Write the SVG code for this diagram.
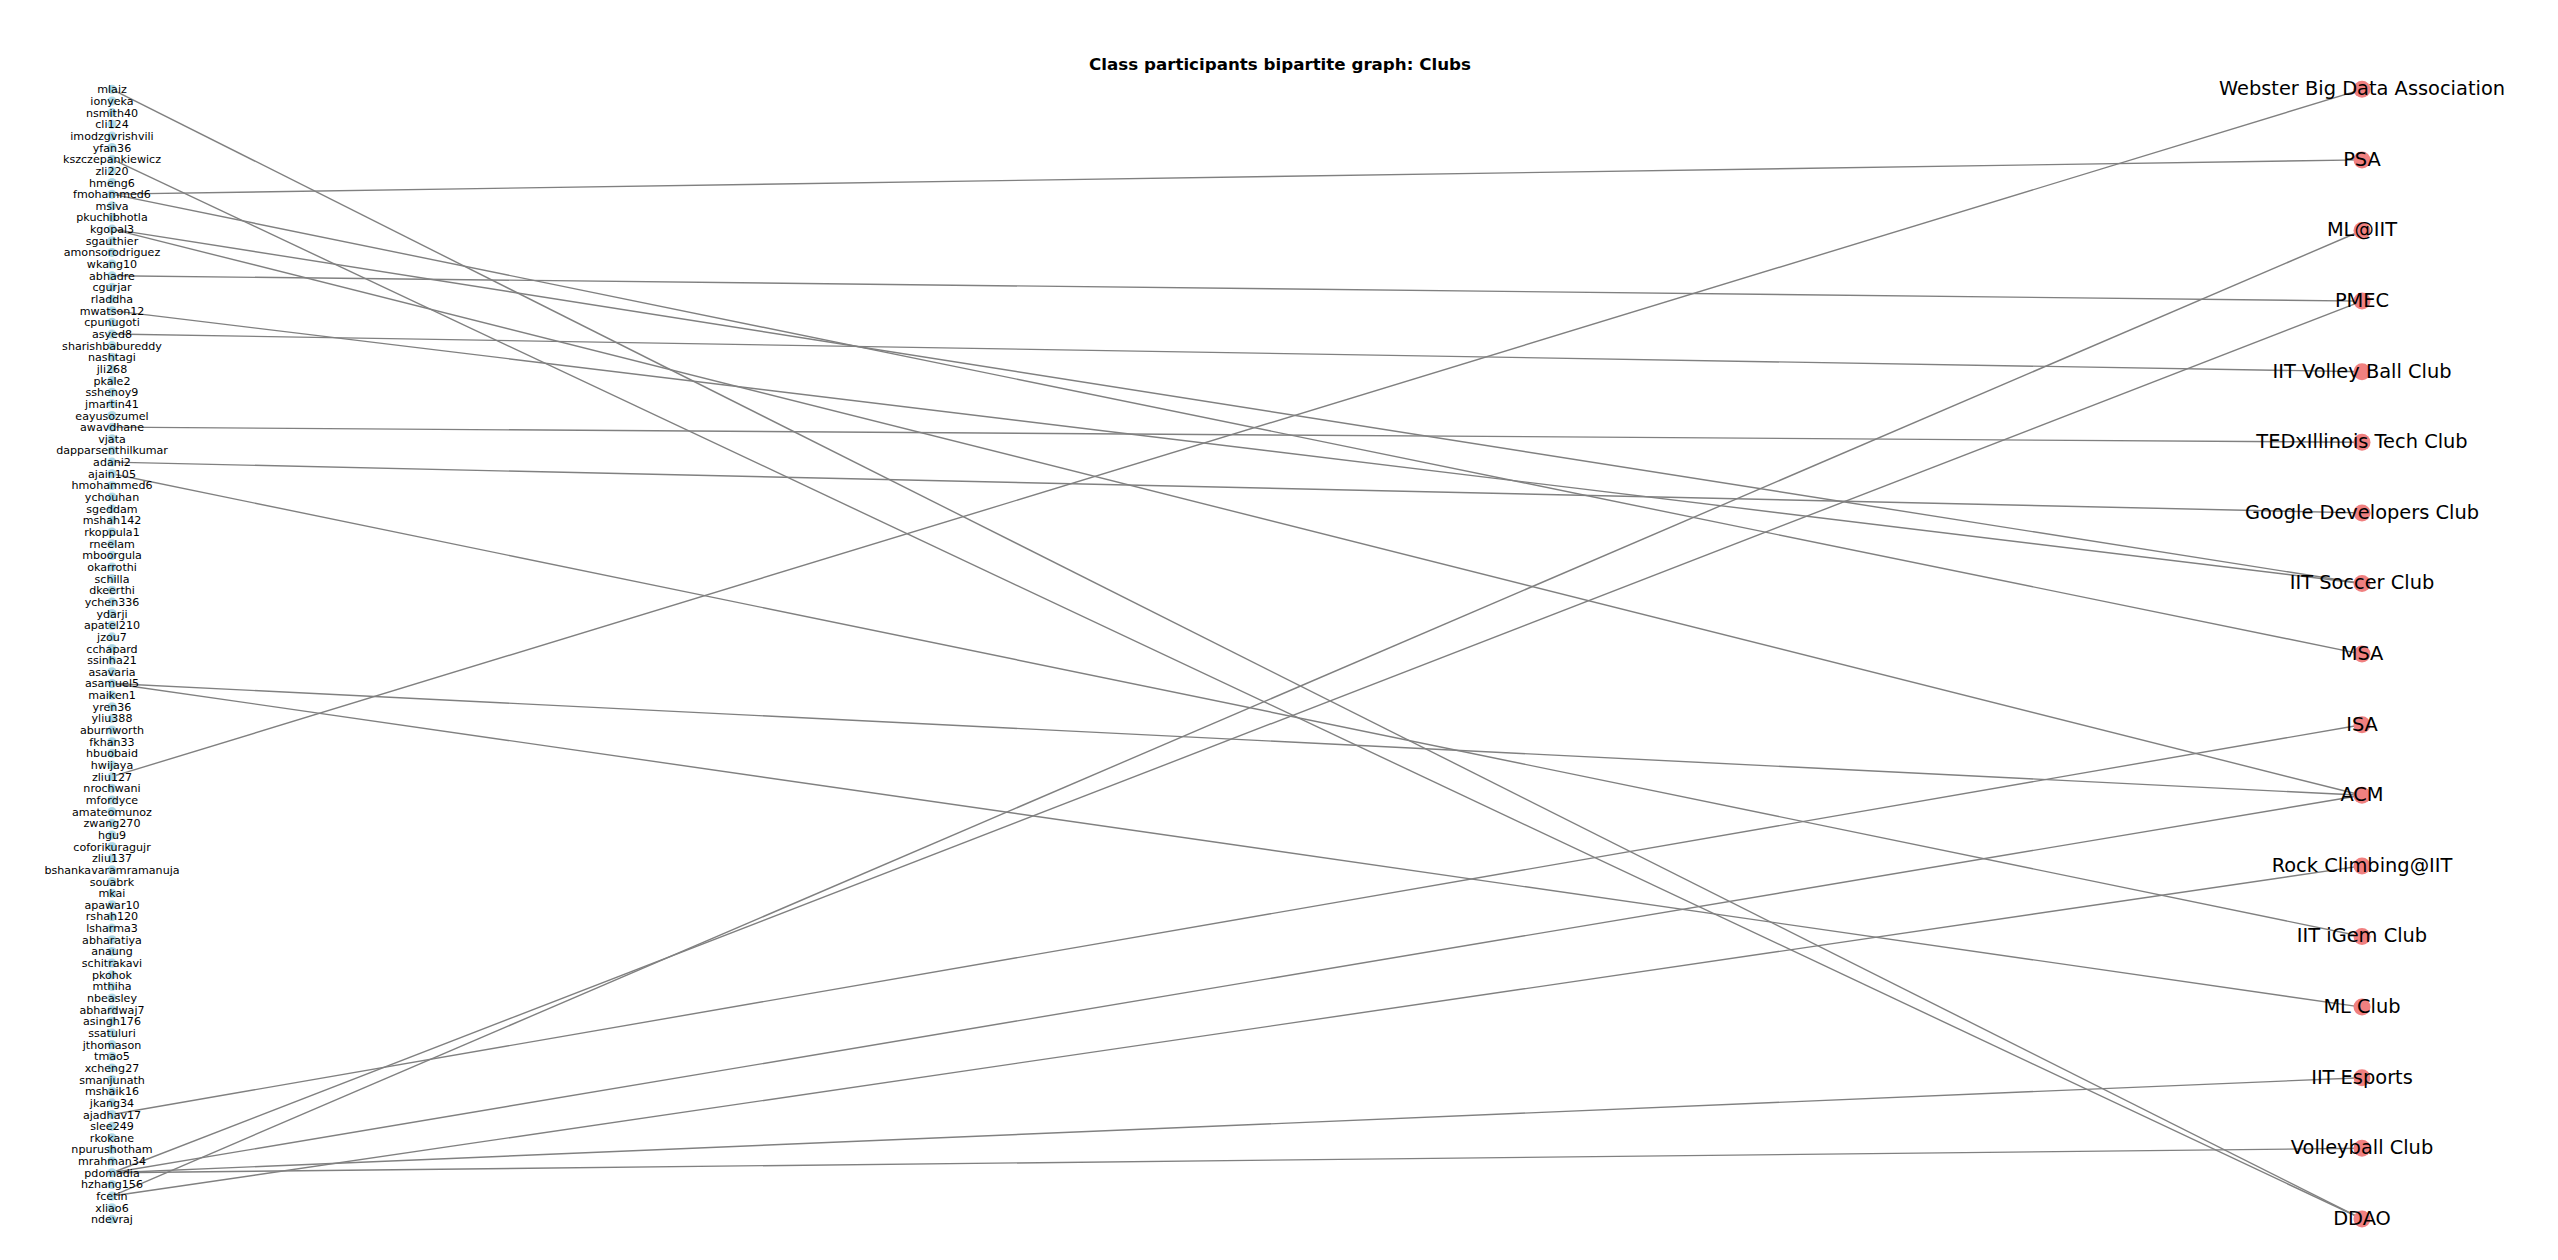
<svg xmlns="http://www.w3.org/2000/svg" width="2558" height="1260" viewBox="0 0 2558 1260">
<style>
text{font-family:"DejaVu Sans","Liberation Sans",sans-serif;fill:#000;text-anchor:middle}
.lt{font-size:11.1px}
.rt{font-size:19.4px}
.title{font-size:16.7px;font-weight:bold}
.u{fill:#add8e6}
.c{fill:#f08080}
#edges line{stroke:#808080;stroke-width:1.4}
</style>
<rect width="2558" height="1260" fill="#fff"/>
<text class="title" x="1280" y="70">Class participants bipartite graph: Clubs</text>
<g id="edges">
<line x1="112" y1="89.3" x2="2362" y2="1218.9"/>
<line x1="112" y1="159.2" x2="2362" y2="1218.9"/>
<line x1="112" y1="194.15" x2="2362" y2="159.9"/>
<line x1="112" y1="194.15" x2="2362" y2="654.1"/>
<line x1="112" y1="229.1" x2="2362" y2="583.5"/>
<line x1="112" y1="229.1" x2="2362" y2="795.3"/>
<line x1="112" y1="275.7" x2="2362" y2="301.1"/>
<line x1="112" y1="310.65" x2="2362" y2="583.5"/>
<line x1="112" y1="333.95" x2="2362" y2="371.7"/>
<line x1="112" y1="427.15" x2="2362" y2="442.3"/>
<line x1="112" y1="462.1" x2="2362" y2="512.9"/>
<line x1="112" y1="473.75" x2="2362" y2="936.5"/>
<line x1="112" y1="683.45" x2="2362" y2="795.3"/>
<line x1="112" y1="683.45" x2="2362" y2="1007.1"/>
<line x1="112" y1="776.65" x2="2362" y2="89.3"/>
<line x1="112" y1="1114.5" x2="2362" y2="724.7"/>
<line x1="112" y1="1172.75" x2="2362" y2="301.1"/>
<line x1="112" y1="1172.75" x2="2362" y2="795.3"/>
<line x1="112" y1="1172.75" x2="2362" y2="1077.7"/>
<line x1="112" y1="1172.75" x2="2362" y2="1148.3"/>
<line x1="112" y1="1196.05" x2="2362" y2="230.5"/>
<line x1="112" y1="1196.05" x2="2362" y2="865.9"/>
</g>
<g id="participants">
<g id="p-mlaiz"><circle class="u" cx="112" cy="89.3" r="4.5"/><text class="lt" x="112" y="93.3">mlaiz</text></g>
<g id="p-ionyeka"><circle class="u" cx="112" cy="100.95" r="4.5"/><text class="lt" x="112" y="104.95">ionyeka</text></g>
<g id="p-nsmith40"><circle class="u" cx="112" cy="112.6" r="4.5"/><text class="lt" x="112" y="116.6">nsmith40</text></g>
<g id="p-cli124"><circle class="u" cx="112" cy="124.25" r="4.5"/><text class="lt" x="112" y="128.25">cli124</text></g>
<g id="p-imodzgvrishvili"><circle class="u" cx="112" cy="135.9" r="4.5"/><text class="lt" x="112" y="139.9">imodzgvrishvili</text></g>
<g id="p-yfan36"><circle class="u" cx="112" cy="147.55" r="4.5"/><text class="lt" x="112" y="151.55">yfan36</text></g>
<g id="p-kszczepankiewicz"><circle class="u" cx="112" cy="159.2" r="4.5"/><text class="lt" x="112" y="163.2">kszczepankiewicz</text></g>
<g id="p-zli220"><circle class="u" cx="112" cy="170.85" r="4.5"/><text class="lt" x="112" y="174.85">zli220</text></g>
<g id="p-hmeng6"><circle class="u" cx="112" cy="182.5" r="4.5"/><text class="lt" x="112" y="186.5">hmeng6</text></g>
<g id="p-fmohammed6"><circle class="u" cx="112" cy="194.15" r="4.5"/><text class="lt" x="112" y="198.15">fmohammed6</text></g>
<g id="p-msiva"><circle class="u" cx="112" cy="205.8" r="4.5"/><text class="lt" x="112" y="209.8">msiva</text></g>
<g id="p-pkuchibhotla"><circle class="u" cx="112" cy="217.45" r="4.5"/><text class="lt" x="112" y="221.45">pkuchibhotla</text></g>
<g id="p-kgopal3"><circle class="u" cx="112" cy="229.1" r="4.5"/><text class="lt" x="112" y="233.1">kgopal3</text></g>
<g id="p-sgauthier"><circle class="u" cx="112" cy="240.75" r="4.5"/><text class="lt" x="112" y="244.75">sgauthier</text></g>
<g id="p-amonsorodriguez"><circle class="u" cx="112" cy="252.4" r="4.5"/><text class="lt" x="112" y="256.4">amonsorodriguez</text></g>
<g id="p-wkang10"><circle class="u" cx="112" cy="264.05" r="4.5"/><text class="lt" x="112" y="268.05">wkang10</text></g>
<g id="p-abhadre"><circle class="u" cx="112" cy="275.7" r="4.5"/><text class="lt" x="112" y="279.7">abhadre</text></g>
<g id="p-cgurjar"><circle class="u" cx="112" cy="287.35" r="4.5"/><text class="lt" x="112" y="291.35">cgurjar</text></g>
<g id="p-rladdha"><circle class="u" cx="112" cy="299" r="4.5"/><text class="lt" x="112" y="303">rladdha</text></g>
<g id="p-mwatson12"><circle class="u" cx="112" cy="310.65" r="4.5"/><text class="lt" x="112" y="314.65">mwatson12</text></g>
<g id="p-cpunugoti"><circle class="u" cx="112" cy="322.3" r="4.5"/><text class="lt" x="112" y="326.3">cpunugoti</text></g>
<g id="p-asyed8"><circle class="u" cx="112" cy="333.95" r="4.5"/><text class="lt" x="112" y="337.95">asyed8</text></g>
<g id="p-sharishbabureddy"><circle class="u" cx="112" cy="345.6" r="4.5"/><text class="lt" x="112" y="349.6">sharishbabureddy</text></g>
<g id="p-nashtagi"><circle class="u" cx="112" cy="357.25" r="4.5"/><text class="lt" x="112" y="361.25">nashtagi</text></g>
<g id="p-jli268"><circle class="u" cx="112" cy="368.9" r="4.5"/><text class="lt" x="112" y="372.9">jli268</text></g>
<g id="p-pkale2"><circle class="u" cx="112" cy="380.55" r="4.5"/><text class="lt" x="112" y="384.55">pkale2</text></g>
<g id="p-sshenoy9"><circle class="u" cx="112" cy="392.2" r="4.5"/><text class="lt" x="112" y="396.2">sshenoy9</text></g>
<g id="p-jmartin41"><circle class="u" cx="112" cy="403.85" r="4.5"/><text class="lt" x="112" y="407.85">jmartin41</text></g>
<g id="p-eayusozumel"><circle class="u" cx="112" cy="415.5" r="4.5"/><text class="lt" x="112" y="419.5">eayusozumel</text></g>
<g id="p-awavdhane"><circle class="u" cx="112" cy="427.15" r="4.5"/><text class="lt" x="112" y="431.15">awavdhane</text></g>
<g id="p-vjata"><circle class="u" cx="112" cy="438.8" r="4.5"/><text class="lt" x="112" y="442.8">vjata</text></g>
<g id="p-dapparsenthilkumar"><circle class="u" cx="112" cy="450.45" r="4.5"/><text class="lt" x="112" y="454.45">dapparsenthilkumar</text></g>
<g id="p-adani2"><circle class="u" cx="112" cy="462.1" r="4.5"/><text class="lt" x="112" y="466.1">adani2</text></g>
<g id="p-ajain105"><circle class="u" cx="112" cy="473.75" r="4.5"/><text class="lt" x="112" y="477.75">ajain105</text></g>
<g id="p-hmohammed6"><circle class="u" cx="112" cy="485.4" r="4.5"/><text class="lt" x="112" y="489.4">hmohammed6</text></g>
<g id="p-ychouhan"><circle class="u" cx="112" cy="497.05" r="4.5"/><text class="lt" x="112" y="501.05">ychouhan</text></g>
<g id="p-sgeddam"><circle class="u" cx="112" cy="508.7" r="4.5"/><text class="lt" x="112" y="512.7">sgeddam</text></g>
<g id="p-mshah142"><circle class="u" cx="112" cy="520.35" r="4.5"/><text class="lt" x="112" y="524.35">mshah142</text></g>
<g id="p-rkoppula1"><circle class="u" cx="112" cy="532" r="4.5"/><text class="lt" x="112" y="536">rkoppula1</text></g>
<g id="p-rneelam"><circle class="u" cx="112" cy="543.65" r="4.5"/><text class="lt" x="112" y="547.65">rneelam</text></g>
<g id="p-mboorgula"><circle class="u" cx="112" cy="555.3" r="4.5"/><text class="lt" x="112" y="559.3">mboorgula</text></g>
<g id="p-okarrothi"><circle class="u" cx="112" cy="566.95" r="4.5"/><text class="lt" x="112" y="570.95">okarrothi</text></g>
<g id="p-schilla"><circle class="u" cx="112" cy="578.6" r="4.5"/><text class="lt" x="112" y="582.6">schilla</text></g>
<g id="p-dkeerthi"><circle class="u" cx="112" cy="590.25" r="4.5"/><text class="lt" x="112" y="594.25">dkeerthi</text></g>
<g id="p-ychen336"><circle class="u" cx="112" cy="601.9" r="4.5"/><text class="lt" x="112" y="605.9">ychen336</text></g>
<g id="p-ydarji"><circle class="u" cx="112" cy="613.55" r="4.5"/><text class="lt" x="112" y="617.55">ydarji</text></g>
<g id="p-apatel210"><circle class="u" cx="112" cy="625.2" r="4.5"/><text class="lt" x="112" y="629.2">apatel210</text></g>
<g id="p-jzou7"><circle class="u" cx="112" cy="636.85" r="4.5"/><text class="lt" x="112" y="640.85">jzou7</text></g>
<g id="p-cchapard"><circle class="u" cx="112" cy="648.5" r="4.5"/><text class="lt" x="112" y="652.5">cchapard</text></g>
<g id="p-ssinha21"><circle class="u" cx="112" cy="660.15" r="4.5"/><text class="lt" x="112" y="664.15">ssinha21</text></g>
<g id="p-asavaria"><circle class="u" cx="112" cy="671.8" r="4.5"/><text class="lt" x="112" y="675.8">asavaria</text></g>
<g id="p-asamuel5"><circle class="u" cx="112" cy="683.45" r="4.5"/><text class="lt" x="112" y="687.45">asamuel5</text></g>
<g id="p-maiken1"><circle class="u" cx="112" cy="695.1" r="4.5"/><text class="lt" x="112" y="699.1">maiken1</text></g>
<g id="p-yren36"><circle class="u" cx="112" cy="706.75" r="4.5"/><text class="lt" x="112" y="710.75">yren36</text></g>
<g id="p-yliu388"><circle class="u" cx="112" cy="718.4" r="4.5"/><text class="lt" x="112" y="722.4">yliu388</text></g>
<g id="p-aburnworth"><circle class="u" cx="112" cy="730.05" r="4.5"/><text class="lt" x="112" y="734.05">aburnworth</text></g>
<g id="p-fkhan33"><circle class="u" cx="112" cy="741.7" r="4.5"/><text class="lt" x="112" y="745.7">fkhan33</text></g>
<g id="p-hbuobaid"><circle class="u" cx="112" cy="753.35" r="4.5"/><text class="lt" x="112" y="757.35">hbuobaid</text></g>
<g id="p-hwijaya"><circle class="u" cx="112" cy="765" r="4.5"/><text class="lt" x="112" y="769">hwijaya</text></g>
<g id="p-zliu127"><circle class="u" cx="112" cy="776.65" r="4.5"/><text class="lt" x="112" y="780.65">zliu127</text></g>
<g id="p-nrochwani"><circle class="u" cx="112" cy="788.3" r="4.5"/><text class="lt" x="112" y="792.3">nrochwani</text></g>
<g id="p-mfordyce"><circle class="u" cx="112" cy="799.95" r="4.5"/><text class="lt" x="112" y="803.95">mfordyce</text></g>
<g id="p-amateomunoz"><circle class="u" cx="112" cy="811.6" r="4.5"/><text class="lt" x="112" y="815.6">amateomunoz</text></g>
<g id="p-zwang270"><circle class="u" cx="112" cy="823.25" r="4.5"/><text class="lt" x="112" y="827.25">zwang270</text></g>
<g id="p-hgu9"><circle class="u" cx="112" cy="834.9" r="4.5"/><text class="lt" x="112" y="838.9">hgu9</text></g>
<g id="p-coforikuragujr"><circle class="u" cx="112" cy="846.55" r="4.5"/><text class="lt" x="112" y="850.55">coforikuragujr</text></g>
<g id="p-zliu137"><circle class="u" cx="112" cy="858.2" r="4.5"/><text class="lt" x="112" y="862.2">zliu137</text></g>
<g id="p-bshankavaramramanuja"><circle class="u" cx="112" cy="869.85" r="4.5"/><text class="lt" x="112" y="873.85">bshankavaramramanuja</text></g>
<g id="p-souabrk"><circle class="u" cx="112" cy="881.5" r="4.5"/><text class="lt" x="112" y="885.5">souabrk</text></g>
<g id="p-mkai"><circle class="u" cx="112" cy="893.15" r="4.5"/><text class="lt" x="112" y="897.15">mkai</text></g>
<g id="p-apawar10"><circle class="u" cx="112" cy="904.8" r="4.5"/><text class="lt" x="112" y="908.8">apawar10</text></g>
<g id="p-rshah120"><circle class="u" cx="112" cy="916.45" r="4.5"/><text class="lt" x="112" y="920.45">rshah120</text></g>
<g id="p-lsharma3"><circle class="u" cx="112" cy="928.1" r="4.5"/><text class="lt" x="112" y="932.1">lsharma3</text></g>
<g id="p-abharatiya"><circle class="u" cx="112" cy="939.75" r="4.5"/><text class="lt" x="112" y="943.75">abharatiya</text></g>
<g id="p-anaung"><circle class="u" cx="112" cy="951.4" r="4.5"/><text class="lt" x="112" y="955.4">anaung</text></g>
<g id="p-schitrakavi"><circle class="u" cx="112" cy="963.05" r="4.5"/><text class="lt" x="112" y="967.05">schitrakavi</text></g>
<g id="p-pkohok"><circle class="u" cx="112" cy="974.7" r="4.5"/><text class="lt" x="112" y="978.7">pkohok</text></g>
<g id="p-mthiha"><circle class="u" cx="112" cy="986.35" r="4.5"/><text class="lt" x="112" y="990.35">mthiha</text></g>
<g id="p-nbeasley"><circle class="u" cx="112" cy="998" r="4.5"/><text class="lt" x="112" y="1002">nbeasley</text></g>
<g id="p-abhardwaj7"><circle class="u" cx="112" cy="1009.65" r="4.5"/><text class="lt" x="112" y="1013.65">abhardwaj7</text></g>
<g id="p-asingh176"><circle class="u" cx="112" cy="1021.3" r="4.5"/><text class="lt" x="112" y="1025.3">asingh176</text></g>
<g id="p-ssatuluri"><circle class="u" cx="112" cy="1032.95" r="4.5"/><text class="lt" x="112" y="1036.95">ssatuluri</text></g>
<g id="p-jthomason"><circle class="u" cx="112" cy="1044.6" r="4.5"/><text class="lt" x="112" y="1048.6">jthomason</text></g>
<g id="p-tmao5"><circle class="u" cx="112" cy="1056.25" r="4.5"/><text class="lt" x="112" y="1060.25">tmao5</text></g>
<g id="p-xcheng27"><circle class="u" cx="112" cy="1067.9" r="4.5"/><text class="lt" x="112" y="1071.9">xcheng27</text></g>
<g id="p-smanjunath"><circle class="u" cx="112" cy="1079.55" r="4.5"/><text class="lt" x="112" y="1083.55">smanjunath</text></g>
<g id="p-mshaik16"><circle class="u" cx="112" cy="1091.2" r="4.5"/><text class="lt" x="112" y="1095.2">mshaik16</text></g>
<g id="p-jkang34"><circle class="u" cx="112" cy="1102.85" r="4.5"/><text class="lt" x="112" y="1106.85">jkang34</text></g>
<g id="p-ajadhav17"><circle class="u" cx="112" cy="1114.5" r="4.5"/><text class="lt" x="112" y="1118.5">ajadhav17</text></g>
<g id="p-slee249"><circle class="u" cx="112" cy="1126.15" r="4.5"/><text class="lt" x="112" y="1130.15">slee249</text></g>
<g id="p-rkokane"><circle class="u" cx="112" cy="1137.8" r="4.5"/><text class="lt" x="112" y="1141.8">rkokane</text></g>
<g id="p-npurushotham"><circle class="u" cx="112" cy="1149.45" r="4.5"/><text class="lt" x="112" y="1153.45">npurushotham</text></g>
<g id="p-mrahman34"><circle class="u" cx="112" cy="1161.1" r="4.5"/><text class="lt" x="112" y="1165.1">mrahman34</text></g>
<g id="p-pdomadia"><circle class="u" cx="112" cy="1172.75" r="4.5"/><text class="lt" x="112" y="1176.75">pdomadia</text></g>
<g id="p-hzhang156"><circle class="u" cx="112" cy="1184.4" r="4.5"/><text class="lt" x="112" y="1188.4">hzhang156</text></g>
<g id="p-fcetin"><circle class="u" cx="112" cy="1196.05" r="4.5"/><text class="lt" x="112" y="1200.05">fcetin</text></g>
<g id="p-xliao6"><circle class="u" cx="112" cy="1207.7" r="4.5"/><text class="lt" x="112" y="1211.7">xliao6</text></g>
<g id="p-ndevraj"><circle class="u" cx="112" cy="1219.35" r="4.5"/><text class="lt" x="112" y="1223.35">ndevraj</text></g>
</g>
<g id="clubs">
<g id="c-webster"><circle class="c" cx="2362" cy="89.3" r="8.5"/><text class="rt" x="2362" y="95.1">Webster Big Data Association</text></g>
<g id="c-psa"><circle class="c" cx="2362" cy="159.9" r="8.5"/><text class="rt" x="2362" y="165.7">PSA</text></g>
<g id="c-mliit"><circle class="c" cx="2362" cy="230.5" r="8.5"/><text class="rt" x="2362" y="236.3">ML@IIT</text></g>
<g id="c-pmec"><circle class="c" cx="2362" cy="301.1" r="8.5"/><text class="rt" x="2362" y="306.9">PMEC</text></g>
<g id="c-iitvolleyball"><circle class="c" cx="2362" cy="371.7" r="8.5"/><text class="rt" x="2362" y="377.5">IIT Volley Ball Club</text></g>
<g id="c-tedx"><circle class="c" cx="2362" cy="442.3" r="8.5"/><text class="rt" x="2362" y="448.1">TEDxIllinois Tech Club</text></g>
<g id="c-google"><circle class="c" cx="2362" cy="512.9" r="8.5"/><text class="rt" x="2362" y="518.7">Google Developers Club</text></g>
<g id="c-soccer"><circle class="c" cx="2362" cy="583.5" r="8.5"/><text class="rt" x="2362" y="589.3">IIT Soccer Club</text></g>
<g id="c-msa"><circle class="c" cx="2362" cy="654.1" r="8.5"/><text class="rt" x="2362" y="659.9">MSA</text></g>
<g id="c-isa"><circle class="c" cx="2362" cy="724.7" r="8.5"/><text class="rt" x="2362" y="730.5">ISA</text></g>
<g id="c-acm"><circle class="c" cx="2362" cy="795.3" r="8.5"/><text class="rt" x="2362" y="801.1">ACM</text></g>
<g id="c-rock"><circle class="c" cx="2362" cy="865.9" r="8.5"/><text class="rt" x="2362" y="871.7">Rock Climbing@IIT</text></g>
<g id="c-igem"><circle class="c" cx="2362" cy="936.5" r="8.5"/><text class="rt" x="2362" y="942.3">IIT iGem Club</text></g>
<g id="c-mlclub"><circle class="c" cx="2362" cy="1007.1" r="8.5"/><text class="rt" x="2362" y="1012.9">ML Club</text></g>
<g id="c-esports"><circle class="c" cx="2362" cy="1077.7" r="8.5"/><text class="rt" x="2362" y="1083.5">IIT Esports</text></g>
<g id="c-volleyball"><circle class="c" cx="2362" cy="1148.3" r="8.5"/><text class="rt" x="2362" y="1154.1">Volleyball Club</text></g>
<g id="c-ddao"><circle class="c" cx="2362" cy="1218.9" r="8.5"/><text class="rt" x="2362" y="1224.7">DDAO</text></g>
</g>
</svg>
